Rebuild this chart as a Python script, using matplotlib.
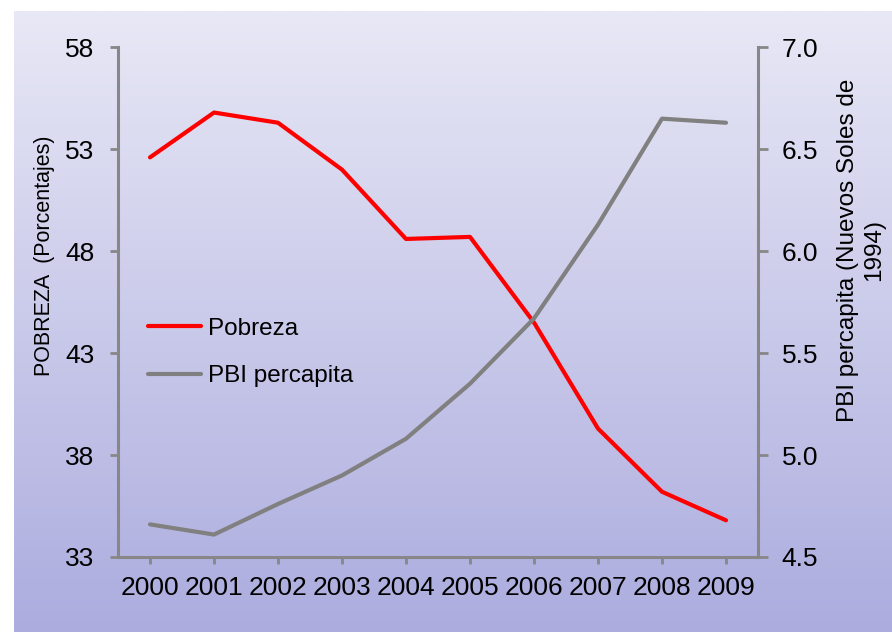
import numpy as np
from matplotlib import pyplot as plt
from matplotlib.colors import LinearSegmentedColormap

years = ["2000", "2001", "2002", "2003", "2004", "2005", "2006", "2007", "2008", "2009"]
pobreza = [52.6, 54.8, 54.3, 52.0, 48.6, 48.7, 44.5, 39.3, 36.2, 34.8]
pbi_percapita = [4.66, 4.61, 4.76, 4.90, 5.08, 5.35, 5.67, 6.13, 6.65, 6.63]

left_ticks = [33, 38, 43, 48, 53, 58]
right_ticks = [4.5, 5.0, 5.5, 6.0, 6.5, 7.0]

plt.rcParams['font.family'] = ['Liberation Sans', 'DejaVu Sans']

W, H = 892, 632
fig = plt.figure(figsize=(W / 100, H / 100), dpi=100)

# gradient background
bg = fig.add_axes([14 / W, 0, 1 - 14 / W, 1 - 11 / H], zorder=-10)
cmap = LinearSegmentedColormap.from_list("bg", ["#e8e8f6", "#acacdf"])
bg.imshow(np.linspace(0, 1, 256).reshape(-1, 1), aspect="auto", cmap=cmap,
          extent=(0, 1, 0, 1))
bg.axis("off")

axis_gray = "#878787"
ax = fig.add_axes([118 / W, 1 - 557 / H, (758 - 118) / W, (557 - 47.3) / H])
ax.set_facecolor("none")
x = np.arange(len(years))
l1, = ax.plot(x, pobreza, color="#ff0000", lw=3, label="Pobreza", solid_capstyle="round")
ax.set_xlim(-0.5, len(years) - 0.5)
ax.set_ylim(33, 58)
ax.set_yticks(left_ticks)
ax.set_xticks(x)
ax.set_xticklabels(years)
for s in ["top", "right"]:
    ax.spines[s].set_visible(False)
for s in ["left", "bottom"]:
    ax.spines[s].set_color(axis_gray)
    ax.spines[s].set_linewidth(2.2)
ax.tick_params(axis="y", length=6, width=2, color=axis_gray, labelsize=19, pad=11)
ax.tick_params(axis="x", length=5, width=2, color=axis_gray, labelsize=19, pad=9)

ax2 = ax.twinx()
l2, = ax2.plot(x, pbi_percapita, color="#808080", lw=3, label="PBI percapita", solid_capstyle="round")
ax2.set_ylim(4.5, 7.0)
ax2.set_yticks(right_ticks)
ax2.set_yticklabels([f"{v:.1f}" for v in right_ticks])
for s in ["top", "left", "bottom"]:
    ax2.spines[s].set_visible(False)
ax2.spines["right"].set_color(axis_gray)
ax2.spines["right"].set_linewidth(2.2)
ax2.tick_params(axis="y", length=7, width=2, color=axis_gray, labelsize=19, pad=10)

ax2.legend([l1, l2], ["Pobreza", "PBI percapita"], frameon=False, fontsize=17.5,
           loc="center left", bbox_to_anchor=(148 / W, 1 - 352.5 / H),
           bbox_transform=fig.transFigure, borderpad=0, borderaxespad=0,
           handlelength=2.2, handletextpad=0.25, labelspacing=1.05)

fig.text(45 / W, 1 - 256 / H, "POBREZA  (Porcentajes)", rotation=90,
         ha="center", va="center", fontsize=15.5)
fig.text(861 / W, 1 - 250 / H, "PBI percapita (Nuevos Soles de\n1994)", rotation=90,
         ha="center", va="center", multialignment="center", fontsize=17.5,
         linespacing=1.2)

fig.savefig("out.png", dpi=100)
